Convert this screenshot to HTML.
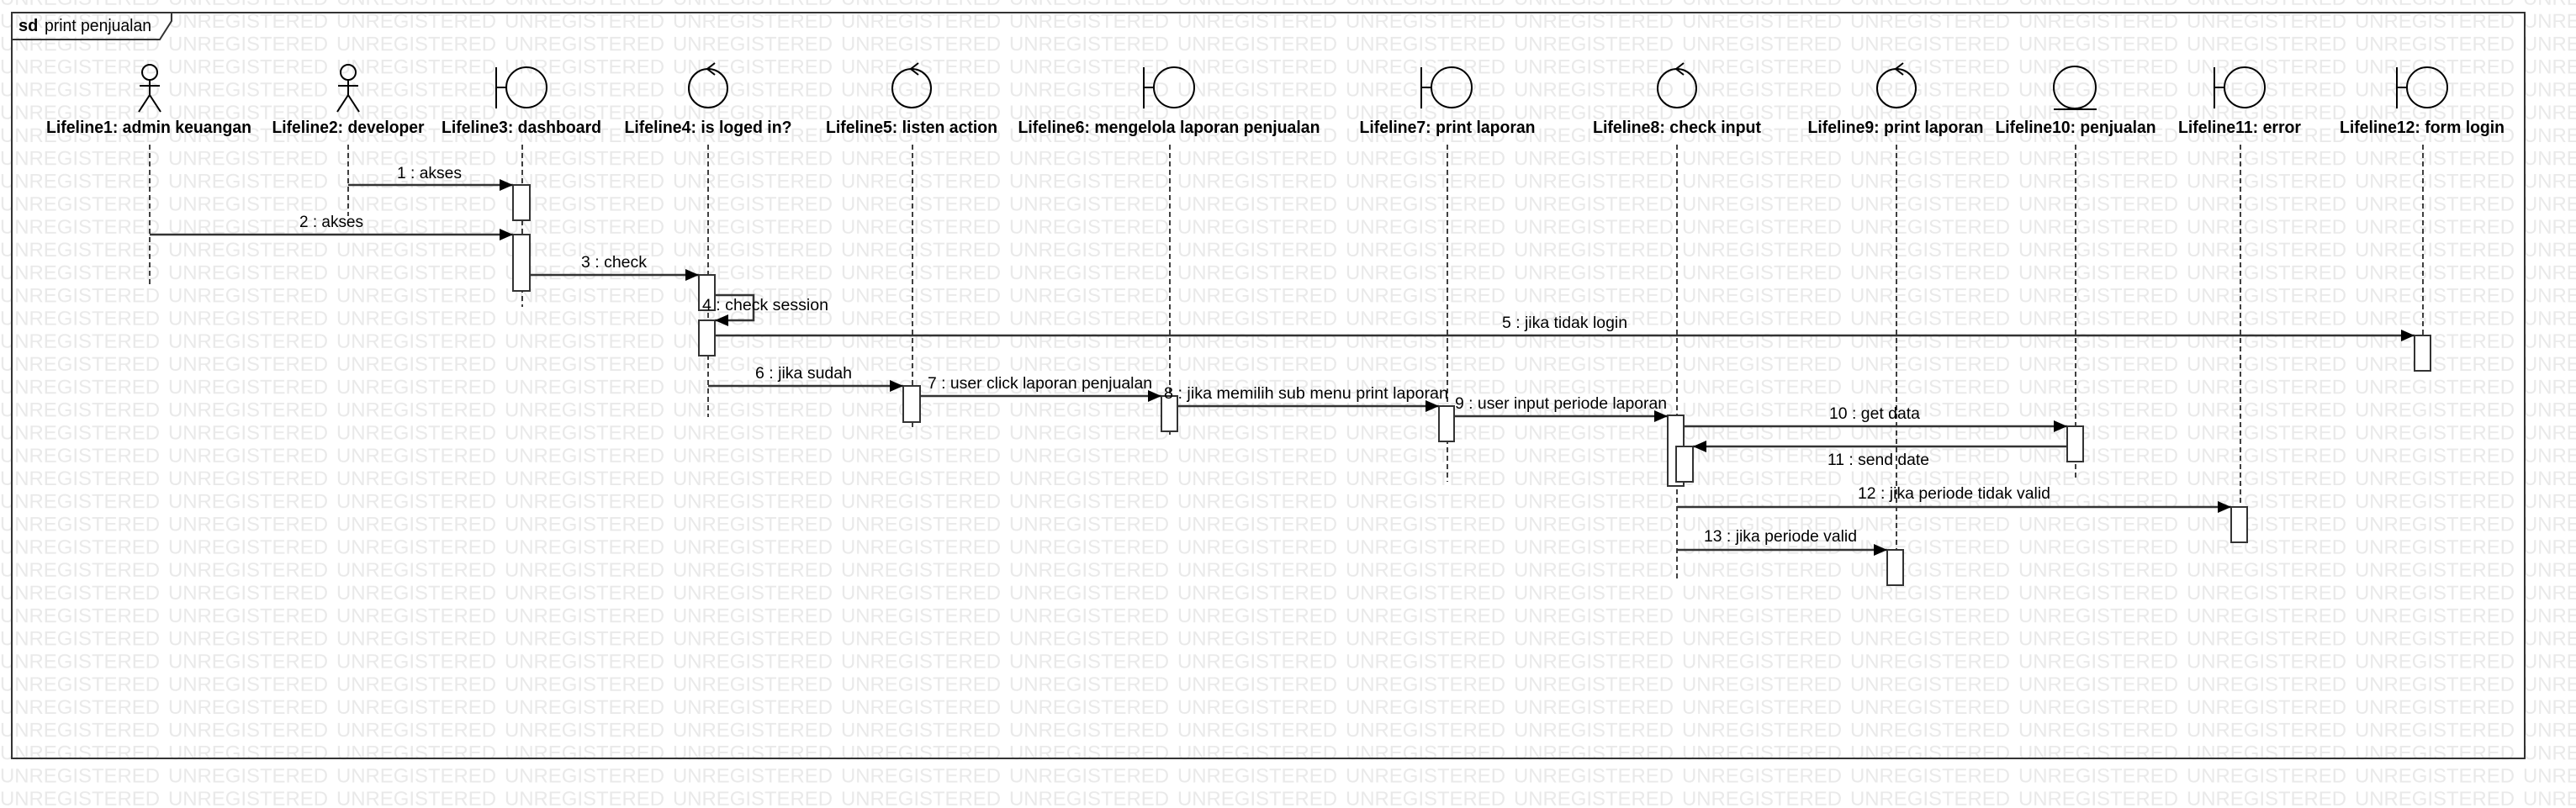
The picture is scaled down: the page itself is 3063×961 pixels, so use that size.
<!DOCTYPE html>
<html><head><meta charset="utf-8"><style>
html,body{margin:0;padding:0;background:#fff;width:3063px;height:961px;overflow:hidden}
svg{display:block}
text{font-family:"Liberation Sans",sans-serif}
.n{font-weight:bold;font-size:20px;fill:#000}
.m{font-size:19px;fill:#000}
</style></head><body>
<svg width="3063" height="961" viewBox="0 0 3063 961" xmlns="http://www.w3.org/2000/svg">
<defs>
<pattern id="wm" patternUnits="userSpaceOnUse" x="0" y="5.8" width="200" height="27.2">
<text x="0" y="27" font-size="24" fill="#e9e9e9" textLength="190" lengthAdjust="spacingAndGlyphs" style="font-family:'Liberation Sans',sans-serif">UNREGISTERED</text>
</pattern>
<marker id="ah" markerWidth="16" markerHeight="14" refX="16" refY="7" orient="auto" markerUnits="userSpaceOnUse"><path d="M0,0 L16,7 L0,14 z" fill="#000"/></marker>
</defs>
<rect x="0" y="0" width="3063" height="961" fill="#fff"/>
<rect x="0" y="0" width="3063" height="961" fill="url(#wm)"/>
<!-- frame -->
<rect x="14" y="15" width="2988" height="887" fill="none" stroke="#333" stroke-width="2"/>
<path d="M14,47 L190,47 L204,25 L204,15" fill="none" stroke="#333" stroke-width="2"/>
<text x="22" y="37" font-size="20" font-weight="bold">sd</text>
<text x="53" y="37" font-size="20" textLength="127" lengthAdjust="spacingAndGlyphs">print penjualan</text>

<g stroke="#000" stroke-width="2" fill="none">
<!-- actors -->
<circle cx="178" cy="86" r="9"/><path d="M178,95 V113 M166,102 H190 M178,113 L165,133 M178,113 L191,133"/>
<circle cx="414" cy="86" r="9"/><path d="M414,95 V113 M402,102 H426 M414,113 L401,133 M414,113 L427,133"/>
<!-- boundaries -->
<circle cx="626" cy="104" r="24"/><path d="M590,80 V129 M590,104 H602"/>
<circle cx="1396" cy="104" r="24"/><path d="M1360,80 V129 M1360,104 H1372"/>
<circle cx="1726" cy="104" r="24"/><path d="M1690,80 V129 M1690,104 H1702"/>
<circle cx="2669" cy="104" r="24"/><path d="M2633,80 V129 M2633,104 H2645"/>
<circle cx="2886" cy="104" r="24"/><path d="M2850,80 V129 M2850,104 H2862"/>
<!-- controls -->
<circle cx="842" cy="105" r="23"/><path d="M850,75 L841,82 L850,89"/>
<circle cx="1084" cy="105" r="23"/><path d="M1092,75 L1083,82 L1092,89"/>
<circle cx="1994" cy="105" r="23"/><path d="M2002,75 L1993,82 L2002,89"/>
<circle cx="2255" cy="105" r="23"/><path d="M2263,75 L2254,82 L2263,89"/>
<!-- entity -->
<circle cx="2467" cy="104" r="25"/><path d="M2442,130 H2493"/>
</g>

<!-- names -->
<g class="n" text-anchor="middle">
<text x="177" y="158" textLength="244" lengthAdjust="spacingAndGlyphs">Lifeline1: admin keuangan</text>
<text x="414" y="158" textLength="181" lengthAdjust="spacingAndGlyphs">Lifeline2: developer</text>
<text x="620" y="158" textLength="190" lengthAdjust="spacingAndGlyphs">Lifeline3: dashboard</text>
<text x="842" y="158" textLength="199" lengthAdjust="spacingAndGlyphs">Lifeline4: is loged in?</text>
<text x="1084" y="158" textLength="204" lengthAdjust="spacingAndGlyphs">Lifeline5: listen action</text>
<text x="1390" y="158" textLength="359" lengthAdjust="spacingAndGlyphs">Lifeline6: mengelola laporan penjualan</text>
<text x="1721" y="158" textLength="209" lengthAdjust="spacingAndGlyphs">Lifeline7: print laporan</text>
<text x="1994" y="158" textLength="200" lengthAdjust="spacingAndGlyphs">Lifeline8: check input</text>
<text x="2254" y="158" textLength="209" lengthAdjust="spacingAndGlyphs">Lifeline9: print laporan</text>
<text x="2468" y="158" textLength="191" lengthAdjust="spacingAndGlyphs">Lifeline10: penjualan</text>
<text x="2663" y="158" textLength="146" lengthAdjust="spacingAndGlyphs">Lifeline11: error</text>
<text x="2880" y="158" textLength="196" lengthAdjust="spacingAndGlyphs">Lifeline12: form login</text>
</g>

<!-- lifelines -->
<g stroke="#000" stroke-width="1.5" stroke-dasharray="6,4">
<path d="M178,172 V338"/><path d="M414,172 V257"/><path d="M621,172 V365"/>
<path d="M842,172 V496"/><path d="M1085,172 V510"/><path d="M1391,172 V517"/>
<path d="M1721,172 V573"/><path d="M1994,172 V688"/><path d="M2255,172 V696"/>
<path d="M2468,172 V569"/><path d="M2664,172 V645"/><path d="M2881,172 V441"/>
</g>

<!-- activations -->
<g fill="#fff" stroke="#333" stroke-width="2">
<rect x="610" y="220" width="20" height="42"/>
<rect x="610" y="279" width="20" height="67"/>
<rect x="831" y="327" width="19" height="42"/>
<rect x="831" y="381" width="19" height="42"/>
<rect x="2871" y="399" width="19" height="42"/>
<rect x="1074" y="459" width="20" height="43"/>
<rect x="1381" y="471" width="19" height="42"/>
<rect x="1711" y="483" width="18" height="42"/>
<rect x="1983" y="494" width="19" height="84"/>
<rect x="1993" y="531" width="20" height="42"/>
<rect x="2458" y="507" width="19" height="42"/>
<rect x="2653" y="603" width="19" height="42"/>
<rect x="2244" y="654" width="19" height="42"/>
</g>

<!-- messages -->
<g stroke="#333" stroke-width="2.5" fill="none" marker-end="url(#ah)">
<path d="M414,220 H610"/>
<path d="M178,279 H610"/>
<path d="M630,327 H831"/>
<path d="M850,351 H896 V381 H850"/>
<path d="M850,399 H2871"/>
<path d="M842,459 H1074"/>
<path d="M1094,471 H1381"/>
<path d="M1400,483 H1711"/>
<path d="M1729,495 H1983"/>
<path d="M2002,507 H2458"/>
<path d="M2458,531 H2013"/>
<path d="M1994,603 H2653"/>
<path d="M1994,654 H2244"/>
</g>

<g class="m">
<text x="472" y="212" textLength="77" lengthAdjust="spacingAndGlyphs">1 : akses</text>
<text x="356" y="270" textLength="76" lengthAdjust="spacingAndGlyphs">2 : akses</text>
<text x="691" y="318" textLength="78" lengthAdjust="spacingAndGlyphs">3 : check</text>
<text x="835" y="369" textLength="150" lengthAdjust="spacingAndGlyphs">4 : check session</text>
<text x="1786" y="390" textLength="149" lengthAdjust="spacingAndGlyphs">5 : jika tidak login</text>
<text x="898" y="450" textLength="115" lengthAdjust="spacingAndGlyphs">6 : jika sudah</text>
<text x="1103" y="462" textLength="267" lengthAdjust="spacingAndGlyphs">7 : user click laporan penjualan</text>
<text x="1384" y="474" textLength="338" lengthAdjust="spacingAndGlyphs">8 : jika memilih sub menu print  laporan</text>
<text x="1730" y="486" textLength="252" lengthAdjust="spacingAndGlyphs">9 : user input periode laporan</text>
<text x="2175" y="498" textLength="108" lengthAdjust="spacingAndGlyphs">10 : get data</text>
<text x="2173" y="553" textLength="121" lengthAdjust="spacingAndGlyphs">11 : send date</text>
<text x="2209" y="593" textLength="229" lengthAdjust="spacingAndGlyphs">12 : jika periode tidak valid</text>
<text x="2026" y="644" textLength="182" lengthAdjust="spacingAndGlyphs">13 : jika periode valid</text>
</g>
</svg>
</body></html>
